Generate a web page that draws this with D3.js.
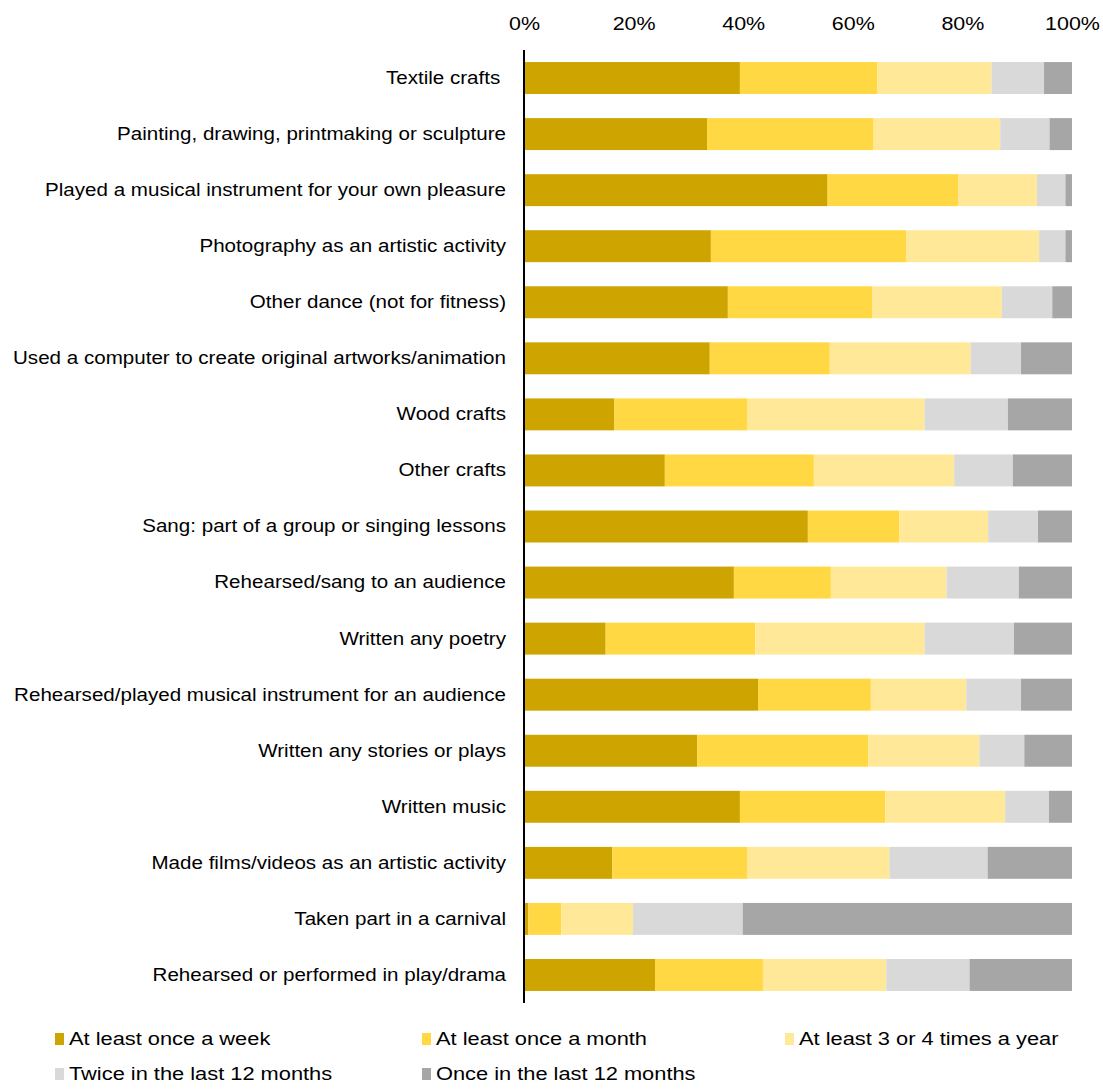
<!DOCTYPE html>
<html>
<head>
<meta charset="utf-8">
<script src="https://cdn.jsdelivr.net/npm/d3@7"></script>
<style>
  html, body { margin: 0; padding: 0; background: #fff; }
  svg text { font-family: "Liberation Sans", Arial, sans-serif; fill: #000; white-space: pre; }
</style>
</head>
<body>
<svg id="chart" width="1103" height="1090"></svg>
<script>
// Activities, top to bottom
const categories = [
  "Textile crafts ",
  "Painting, drawing, printmaking or sculpture",
  "Played a musical instrument for your own pleasure",
  "Photography as an artistic activity",
  "Other dance (not for fitness)",
  "Used a computer to create original artworks/animation",
  "Wood crafts",
  "Other crafts",
  "Sang: part of a group or singing lessons",
  "Rehearsed/sang to an audience",
  "Written any poetry",
  "Rehearsed/played musical instrument for an audience",
  "Written any stories or plays",
  "Written music",
  "Made films/videos as an artistic activity",
  "Taken part in a carnival",
  "Rehearsed or performed in play/drama"
];

// Frequency groups (stack order, left to right)
const seriesNames = [
  "At least once a week",
  "At least once a month",
  "At least 3 or 4 times a year",
  "Twice in the last 12 months",
  "Once in the last 12 months"
];

// Percentages per activity for each frequency group
const weekly   = [39.4, 33.4, 55.4, 34.1, 37.2, 33.9, 16.5, 25.7, 51.8, 38.3, 14.9, 42.7, 31.6, 39.4, 16.1, 0.8, 23.9];
const monthly  = [25.1, 30.4, 23.9, 35.6, 26.3, 21.9, 24.3, 27.2, 16.7, 17.7, 27.3, 20.6, 31.2, 26.5, 24.7, 6.0, 19.7];
const yearly34 = [20.8, 23.1, 14.3, 24.3, 23.7, 25.7, 32.3, 25.6, 16.2, 21.1, 30.9, 17.4, 20.3, 21.9, 25.9, 13.1, 22.5];
const twice12  = [ 9.6,  9.0,  5.2,  4.8,  9.2,  9.2, 15.2, 10.7,  9.1, 13.2, 16.3, 10.0,  8.2,  8.0, 17.9, 20.0, 15.2];
const once12   = [ 5.1,  4.1,  1.2,  1.2,  3.6,  9.3, 11.7, 10.8,  6.2,  9.7, 10.6,  9.3,  8.7,  4.2, 15.4, 60.1, 18.7];

const tickValues = [0, 0.2, 0.4, 0.6, 0.8, 1.0];
const colors = ["#CDA400", "#FFD843", "#FFE999", "#D9D9D9", "#A6A6A6"];

const seriesArrays = [weekly, monthly, yearly34, twice12, once12];
const rows = categories.map((c, i) => {
  const r = { category: c };
  seriesNames.forEach((s, k) => { r[s] = seriesArrays[k][i]; });
  return r;
});

const svg = d3.select("#chart");
const margin = { left: 524, right: 31, top: 50, bottom: 87 };
const width = 1103 - margin.left - margin.right;
const height = 1090 - margin.top - margin.bottom;

const g = svg.append("g").attr("transform", `translate(${margin.left},${margin.top})`);

const x = d3.scaleLinear().domain([0, 1]).range([0, width]);
const y = d3.scaleBand().domain(categories).range([0, height]).paddingInner(0.43).paddingOuter(0.215);
const color = d3.scaleOrdinal().domain(seriesNames).range(colors);

// Normalise each row to 100%
const stack = d3.stack().keys(seriesNames).offset(d3.stackOffsetExpand);
const stacked = stack(rows);

g.selectAll("g.series")
  .data(stacked)
  .join("g")
  .attr("class", "series")
  .attr("fill", d => color(d.key))
  .selectAll("rect")
  .data(d => d)
  .join("rect")
  .attr("x", d => x(d[0]))
  .attr("y", d => y(d.data.category))
  .attr("width", d => Math.max(0, x(d[1]) - x(d[0])))
  .attr("height", y.bandwidth());

// Text is set slightly wide
const FONT = 18.5;
const tickStretch = 1.16, labelStretch = 1.113, legendStretch = 1.18;

// Percentage axis along the top
const xAxis = d3.axisTop(x).tickValues(tickValues).tickFormat(d3.format(".0%")).tickSize(0).tickPadding(0);
const xg = g.append("g").attr("transform", "translate(0,-20)").call(xAxis);
xg.select(".domain").remove();
xg.selectAll("text")
  .attr("font-size", FONT).attr("dy", 0)
  .attr("transform", `scale(${tickStretch},1)`)
  .style("font-family", "'Liberation Sans', Arial, sans-serif");

// Category axis with vertical line
const yAxis = d3.axisLeft(y).tickSize(0).tickPadding(18);
const yg = g.append("g").call(yAxis);
yg.select(".domain").remove();
yg.selectAll("text")
  .attr("font-size", FONT)
  .attr("x", -18 / labelStretch)
  .attr("transform", `scale(${labelStretch},1)`)
  .style("font-family", "'Liberation Sans', Arial, sans-serif");

g.append("line")
  .attr("x1", 0).attr("x2", 0)
  .attr("y1", 0).attr("y2", height)
  .attr("stroke", "#000").attr("stroke-width", 2);

// Legend, two rows
const legendPos = [
  { x: 55, y: 1039 }, { x: 422, y: 1039 }, { x: 785, y: 1039 },
  { x: 55, y: 1074 }, { x: 422, y: 1074 }
];
const legend = svg.append("g");
seriesNames.forEach((s, i) => {
  const p = legendPos[i];
  const item = legend.append("g").attr("transform", `translate(${p.x},${p.y})`);
  item.append("rect").attr("x", 0).attr("y", -6).attr("width", 9).attr("height", 12).attr("fill", color(s));
  item.append("text")
    .attr("transform", `translate(14,0) scale(${legendStretch},1)`)
    .attr("dy", "0.35em").attr("font-size", FONT).text(s);
});
</script>
</body>
</html>
